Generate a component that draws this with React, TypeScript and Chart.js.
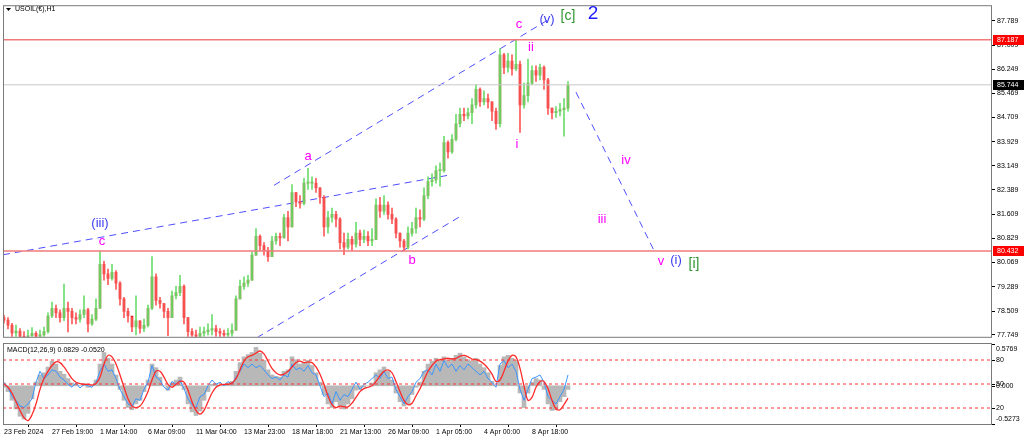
import React, { useEffect, useRef } from 'react';
import { Chart, registerables } from 'chart.js';

Chart.register(...registerables);

const FONT = '"Liberation Sans", Arial, sans-serif';

const chartTitle = 'USOIL(€),H1';
const macdTitle = 'MACD(12,26,9) 0.0829 -0.0520';

const xTickLabels = ['23 Feb 2024', '27 Feb 19:00', '1 Mar 14:00', '6 Mar 09:00', '11 Mar 04:00', '13 Mar 23:00', '18 Mar 18:00', '21 Mar 13:00', '26 Mar 09:00', '1 Apr 05:00', '4 Apr 00:00', '8 Apr 18:00'];
const barsPerTick = 12;

const priceTicks = [87.789, 87.009, 86.249, 85.469, 84.709, 83.929, 83.149, 82.389, 81.609, 80.829, 80.069, 79.289, 78.509, 77.749];

const firstOpen = 78.3;
const closes = [
  78.22, 78.06, 77.81, 77.87, 77.70, 77.65, 77.72, 77.80, 77.70, 77.75,
  77.85, 78.35, 78.60, 78.45, 78.30, 78.60, 78.50, 78.30, 78.25, 78.40,
  78.55, 78.10, 78.25, 78.60, 80.00, 79.70, 79.55, 79.75, 79.40, 78.90,
  78.50, 78.35, 78.00, 78.20, 77.95, 78.05, 78.60, 79.60, 78.85, 78.75,
  78.50, 78.30, 79.00, 79.10, 79.30, 78.30, 77.85, 77.75, 77.70, 77.80,
  77.85, 77.90, 77.95, 77.85, 77.80, 77.75, 77.80, 77.90, 78.90, 79.30,
  79.40, 79.50, 80.30, 80.90, 80.60, 80.45, 80.25, 80.75, 80.90, 80.85,
  81.50, 81.20, 82.30, 82.00, 81.95, 82.60, 82.60, 82.60, 82.45, 82.15,
  81.20, 81.50, 81.60, 81.45, 80.70, 80.55, 80.80, 80.65, 81.00, 80.80,
  80.90, 80.75, 80.80, 81.90, 81.70, 81.90, 81.60, 81.45, 81.00, 80.75,
  80.55, 81.00, 81.15, 81.50, 81.45, 82.20, 82.65, 82.70, 83.00, 83.00,
  83.90, 83.60, 84.00, 84.50, 84.80, 84.75, 84.85, 85.10, 85.60, 85.20,
  85.30, 85.20, 84.90, 84.50, 86.70, 86.30, 86.50, 86.25, 86.40, 85.10,
  85.40, 85.80, 86.20, 86.05, 86.30, 85.90, 85.00, 84.85, 84.90, 84.95,
  85.00, 85.744,
];
const highs = [
  78.37, 78.30, 78.12, 78.06, 77.95, 77.85, 77.90, 77.98, 77.85, 77.90,
  78.00, 78.45, 78.80, 78.70, 78.55, 79.37, 78.80, 78.60, 78.45, 78.55,
  79.00, 78.60, 78.40, 78.90, 80.43, 80.10, 79.85, 80.00, 79.80, 79.45,
  78.95, 78.60, 78.30, 79.00, 78.20, 78.25, 78.70, 80.25, 79.70, 78.95,
  78.75, 78.60, 79.15, 79.30, 79.65, 79.35, 78.30, 77.95, 77.90, 78.00,
  78.00, 78.10, 78.40, 78.05, 77.95, 77.90, 77.95, 78.10, 79.00, 79.50,
  79.60, 79.65, 80.40, 81.15, 80.95, 80.70, 80.55, 80.90, 81.00, 81.00,
  81.60, 81.70, 82.55, 82.30, 82.20, 82.75, 83.07, 82.80, 82.75, 82.45,
  82.20, 81.70, 81.80, 81.70, 81.50, 81.00, 81.00, 80.90, 81.35, 81.10,
  81.10, 81.05, 81.15, 82.10, 82.15, 82.20, 82.00, 81.80, 81.50, 81.00,
  80.80, 81.20, 81.35, 81.80, 81.75, 82.45, 82.80, 82.90, 83.15, 83.25,
  84.10, 83.95, 84.15, 84.80, 85.00, 85.00, 85.00, 85.30, 85.75, 85.65,
  85.55, 85.45, 85.20, 85.00, 86.90, 86.75, 86.75, 86.70, 87.19, 86.50,
  85.80, 86.57, 86.35, 86.35, 86.41, 86.35, 85.95, 85.00, 85.05, 85.15,
  85.30, 85.85,
];
const lows = [
  78.12, 77.94, 77.59, 77.59, 77.50, 77.45, 77.50, 77.60, 77.50, 77.55,
  77.60, 77.80, 78.30, 78.30, 78.15, 78.20, 77.84, 78.10, 78.10, 78.15,
  78.30, 77.84, 78.05, 78.20, 78.60, 79.50, 79.35, 79.50, 79.20, 78.70,
  78.30, 78.15, 77.85, 77.75, 77.80, 77.85, 78.00, 78.55, 78.70, 78.60,
  78.30, 77.72, 78.30, 78.90, 79.00, 78.10, 77.65, 77.60, 77.55, 77.60,
  77.70, 77.75, 77.75, 77.70, 77.60, 77.55, 77.60, 77.70, 77.90, 78.90,
  79.20, 79.30, 79.50, 80.30, 80.45, 80.30, 80.10, 80.25, 80.65, 80.60,
  80.85, 80.75, 81.20, 81.85, 81.80, 81.90, 82.40, 82.40, 82.30, 81.95,
  80.90, 81.00, 81.35, 81.20, 80.50, 80.31, 80.50, 80.45, 80.55, 80.60,
  80.70, 80.60, 80.60, 80.80, 81.50, 81.60, 81.45, 81.30, 80.85, 80.55,
  80.43, 80.50, 80.90, 81.00, 81.20, 81.40, 82.10, 82.50, 82.60, 82.50,
  82.95, 83.40, 83.55, 83.95, 84.40, 84.60, 84.65, 84.50, 85.00, 85.05,
  85.10, 85.00, 84.60, 84.32, 84.40, 86.10, 86.15, 86.05, 86.20, 84.22,
  85.00, 85.20, 85.75, 85.85, 85.90, 85.60, 84.80, 84.65, 84.70, 84.75,
  84.10, 84.90,
];

const macdHist = [
  -0.02, -0.08, -0.20, -0.32, -0.42, -0.46, -0.38, -0.18, 0.05, 0.15,
  0.18, 0.26, 0.34, 0.30, 0.20, 0.16, 0.10, 0.04, 0.02, 0.00,
  0.03, -0.02, 0.01, 0.08, 0.30, 0.46, 0.38, 0.30, 0.15, -0.05,
  -0.20, -0.30, -0.33, -0.25, -0.20, -0.08, 0.08, 0.30, 0.25, 0.12,
  0.00, -0.06, 0.04, 0.08, 0.12, -0.05, -0.25, -0.36, -0.41, -0.35,
  -0.20, -0.08, 0.02, 0.03, 0.00, 0.02, 0.04, 0.06, 0.20, 0.32,
  0.40, 0.43, 0.46, 0.53, 0.45, 0.35, 0.22, 0.15, 0.13, 0.12,
  0.20, 0.22, 0.40, 0.36, 0.30, 0.32, 0.35, 0.28, 0.18, 0.05,
  -0.12, -0.25, -0.30, -0.22, -0.28, -0.32, -0.25, -0.18, -0.06, -0.05,
  -0.02, 0.00, 0.04, 0.18, 0.22, 0.26, 0.20, 0.08, -0.10, -0.22,
  -0.28, -0.25, -0.12, -0.02, 0.05, 0.20, 0.30, 0.34, 0.38, 0.36,
  0.40, 0.35, 0.38, 0.42, 0.45, 0.40, 0.36, 0.34, 0.38, 0.30,
  0.25, 0.18, 0.06, 0.00, 0.28, 0.40, 0.42, 0.38, 0.35, -0.10,
  -0.30, -0.10, 0.05, 0.10, 0.08, -0.05, -0.25, -0.34, -0.33, -0.22,
  -0.15, -0.05,
];
const macdSignal = [
  0.02, -0.02, -0.10, -0.22, -0.34, -0.44, -0.48, -0.40, -0.25, -0.05,
  0.10, 0.20, 0.28, 0.33, 0.32, 0.26, 0.18, 0.10, 0.05, 0.03,
  0.02, 0.02, 0.01, 0.03, 0.12, 0.30, 0.42, 0.40, 0.30, 0.15,
  -0.02, -0.18, -0.28, -0.30, -0.28, -0.20, -0.08, 0.08, 0.20, 0.20,
  0.12, 0.02, -0.02, 0.02, 0.06, 0.05, -0.06, -0.22, -0.34, -0.39,
  -0.34, -0.22, -0.10, -0.02, 0.01, 0.02, 0.02, 0.04, 0.10, 0.22,
  0.34, 0.40, 0.42, 0.45, 0.48, 0.44, 0.34, 0.24, 0.18, 0.15,
  0.16, 0.20, 0.26, 0.32, 0.34, 0.32, 0.33, 0.32, 0.26, 0.16,
  0.02, -0.14, -0.26, -0.30, -0.28, -0.29, -0.29, -0.24, -0.16, -0.08,
  -0.04, -0.02, 0.00, 0.06, 0.14, 0.20, 0.22, 0.18, 0.06, -0.08,
  -0.20, -0.26, -0.24, -0.14, -0.04, 0.08, 0.20, 0.28, 0.34, 0.36,
  0.37, 0.38, 0.37, 0.38, 0.41, 0.42, 0.40, 0.37, 0.36, 0.34,
  0.30, 0.24, 0.16, 0.06, 0.08, 0.20, 0.34, 0.42, 0.40, 0.24,
  0.00, -0.20, -0.16, -0.02, 0.06, 0.06, -0.04, -0.20, -0.32, -0.33,
  -0.26, -0.17,
];
const macdMain = [
  0.05, -0.02, -0.15, -0.20, -0.28, -0.30, -0.25, -0.18, 0.05, 0.20,
  0.10, 0.15, 0.22, 0.20, 0.12, 0.08, 0.02, -0.02, 0.04, -0.03,
  0.02, 0.00, -0.02, 0.05, 0.20, 0.30, 0.20, 0.22, 0.10, -0.05,
  -0.15, -0.25, -0.28, -0.18, -0.20, -0.05, 0.05, 0.28, 0.12, 0.08,
  -0.02, -0.06, 0.06, 0.02, 0.08, -0.04, -0.18, -0.26, -0.30, -0.15,
  -0.12, 0.00, 0.08, 0.02, 0.05, 0.00, 0.06, 0.02, 0.12, 0.20,
  0.30, 0.25, 0.30, 0.25, 0.28, 0.22, 0.15, 0.10, 0.12, 0.08,
  0.15, 0.12, 0.30, 0.22, 0.25, 0.20, 0.28, 0.18, 0.15, 0.00,
  -0.15, -0.10, -0.25, -0.08, -0.20, -0.12, -0.15, -0.05, 0.05, -0.05,
  0.02, 0.05, 0.10, 0.15, 0.10, 0.20, 0.10, 0.12, -0.05, -0.15,
  -0.25, -0.15, -0.08, 0.05, 0.10, 0.20, 0.22, 0.15, 0.30, 0.20,
  0.35, 0.25, 0.30, 0.20, 0.28, 0.22, 0.30, 0.25, 0.20, 0.15,
  0.20, 0.10, 0.05, -0.02, 0.30, 0.35, 0.25, 0.30, 0.20, -0.05,
  -0.20, -0.05, 0.10, 0.12, 0.15, 0.05, -0.15, -0.20, -0.25, -0.15,
  -0.05, 0.15,
];

const macdMax = 0.5769;
const macdMin = -0.5273;
const stochLevels = [80, 50, 20];

const levelPrices = [87.187, 80.432];
const bidPrice = 85.744;

// Elliott-wave trend lines: [barIndex, price] pairs
const trendLines = [
  [[-0.25, 80.31], [111, 82.85]],
  [[67.5, 82.53], [136, 87.82]],
  [[63.25, 77.66], [114, 81.53]],
  [[143, 85.51], [162.75, 80.38]],
];

const MAG = '#ff00ff';
const BLU = '#3b3bef';
const GRN = '#2f962f';
const waveLabels = [
  { text: '(iii)', x: 24, y: 81.31, color: BLU, size: 13 },
  { text: 'c', x: 24.5, y: 80.75, color: MAG, size: 13 },
  { text: 'a', x: 76, y: 83.47, color: MAG, size: 13 },
  { text: 'b', x: 102, y: 80.13, color: MAG, size: 13 },
  { text: 'c', x: 128.75, y: 87.66, color: MAG, size: 13 },
  { text: '(v)', x: 135.75, y: 87.85, color: BLU, size: 13 },
  { text: '[c]', x: 141, y: 87.95, color: GRN, size: 14 },
  { text: '2', x: 147.25, y: 88.01, color: '#1c1cff', size: 19 },
  { text: 'ii', x: 131.75, y: 86.94, color: MAG, size: 13 },
  { text: 'i', x: 128.25, y: 83.85, color: MAG, size: 13 },
  { text: 'iv', x: 155.5, y: 83.32, color: MAG, size: 13 },
  { text: 'iii', x: 149.5, y: 81.44, color: MAG, size: 13 },
  { text: 'v', x: 164.25, y: 80.09, color: MAG, size: 13 },
  { text: '(i)', x: 168, y: 80.13, color: BLU, size: 13 },
  { text: '[i]', x: 172.5, y: 80.0, color: GRN, size: 14 },
];

const X_MIN = -0.25;
const X_MAX = 247;
const Y_MIN = 77.686;
const Y_MAX = 88.258;

const UP_WICK = '#6ddc6d';
const DOWN_WICK = '#ff5a5a';
const UP_BODY = '#7c7c26';
const DOWN_BODY = '#e02222';

export default function App() {
  const topRef = useRef<HTMLCanvasElement>(null);
  const botRef = useRef<HTMLCanvasElement>(null);

  useEffect(() => {
    const opens = closes.map((c, i) => (i === 0 ? firstOpen : closes[i - 1]));
    const isUp = closes.map((c, i) => c >= opens[i]);

    const frameAndTitle = {
      id: 'frameTop',
      afterDraw(chart: any) {
        const { ctx, chartArea: a, scales } = chart;
        ctx.save();
        ctx.strokeStyle = '#7a7a7a';
        ctx.lineWidth = 1;
        ctx.strokeRect(a.left + 0.5, a.top - 0.5, a.right - a.left - 1, a.bottom - a.top + 1);
        // title
        ctx.fillStyle = '#000';
        ctx.beginPath();
        ctx.moveTo(6, 8);
        ctx.lineTo(11, 8);
        ctx.lineTo(8.5, 11);
        ctx.closePath();
        ctx.fill();
        ctx.font = `7px ${FONT}`;
        ctx.textBaseline = 'middle';
        ctx.textAlign = 'left';
        ctx.fillText(chartTitle, 15, 9.5);
        // wave labels
        const xs = scales.x;
        const ys = scales.y;
        ctx.textAlign = 'center';
        waveLabels.forEach((l) => {
          ctx.font = `${l.size}px ${FONT}`;
          ctx.fillStyle = l.color;
          ctx.fillText(l.text, xs.getPixelForValue(l.x), ys.getPixelForValue(l.y));
        });
        // highlighted price labels
        const tags = [
          { v: levelPrices[0], bg: '#ff0000' },
          { v: bidPrice, bg: '#000000' },
          { v: levelPrices[1], bg: '#ff0000' },
        ];
        ctx.font = `7px ${FONT}`;
        ctx.textAlign = 'left';
        tags.forEach((t) => {
          const y = Math.round(ys.getPixelForValue(t.v));
          ctx.fillStyle = t.bg;
          ctx.fillRect(a.right + 1, y - 5, 31, 10);
          ctx.fillStyle = '#ffffff';
          ctx.fillText(t.v.toFixed(3), a.right + 5, y + 0.5);
        });
        ctx.restore();
      },
    };

    const lineDs = (pts: number[][], color: string, dash: number[], width: number) => ({
      type: 'line' as const,
      data: pts.map((p) => ({ x: p[0], y: p[1] })),
      borderColor: color,
      borderWidth: width,
      borderDash: dash,
      pointRadius: 0,
      fill: false,
      tension: 0,
    });

    const top = new Chart(topRef.current!, {
      type: 'bar',
      data: {
        datasets: [
          lineDs([[X_MIN, bidPrice], [X_MAX, bidPrice]], '#c8c8c8', [], 1),
          lineDs([[X_MIN, levelPrices[0]], [X_MAX, levelPrices[0]]], '#f07a7a', [], 1.5),
          lineDs([[X_MIN, levelPrices[1]], [X_MAX, levelPrices[1]]], '#f07a7a', [], 1.5),
          {
            type: 'bar',
            data: closes.map((c, i) => ({ x: i, y: [lows[i], highs[i]] })),
            backgroundColor: isUp.map((u) => (u ? UP_WICK : DOWN_WICK)),
            barThickness: 1,
            grouped: false,
            borderWidth: 0,
          } as any,
          {
            type: 'bar',
            data: closes.map((c, i) => ({ x: i, y: [opens[i], c] })),
            backgroundColor: isUp.map((u) => (u ? UP_BODY : DOWN_BODY)),
            barThickness: 2,
            minBarLength: 1,
            grouped: false,
            borderWidth: 0,
          } as any,
          ...trendLines.map((t) => lineDs(t, '#4f4fff', [7, 5], 1)),
        ] as any,
      },
      options: {
        responsive: false,
        animation: false,
        devicePixelRatio: 1,
        layout: { padding: { left: 3, top: 4, right: 0, bottom: 1 } },
        plugins: { legend: { display: false }, tooltip: { enabled: false } },
        scales: {
          x: { type: 'linear', min: X_MIN, max: X_MAX, display: false, offset: false },
          y: {
            position: 'right',
            min: Y_MIN,
            max: Y_MAX,
            afterBuildTicks: (s: any) => {
              s.ticks = priceTicks.map((v) => ({ value: v }));
            },
            afterFit: (s: any) => {
              s.width = 32;
            },
            grid: { drawOnChartArea: false, tickLength: 3, color: '#000' },
            border: { display: false },
            ticks: {
              padding: 2,
              color: '#000',
              font: { size: 7, family: FONT },
              callback: (v: any) => Number(v).toFixed(3),
            },
          },
        },
      } as any,
      plugins: [frameAndTitle],
    });

    const macdLabels = [
      { axis: 'y', v: macdMax, text: macdMax.toFixed(4), dy: 5 },
      { axis: 'ys', v: 80, text: '80', dy: 0 },
      { axis: 'ys', v: 50, text: '50', dy: 0 },
      { axis: 'y', v: 0, text: '0.000', dy: 0 },
      { axis: 'ys', v: 20, text: '20', dy: 0 },
      { axis: 'y', v: macdMin, text: macdMin.toFixed(4), dy: -5 },
    ];

    const frameBottom = {
      id: 'frameBottom',
      afterDraw(chart: any) {
        const { ctx, chartArea: a, scales } = chart;
        ctx.save();
        ctx.strokeStyle = '#7a7a7a';
        ctx.lineWidth = 1;
        ctx.strokeRect(a.left + 0.5, a.top - 0.5, a.right - a.left - 1, a.bottom - a.top + 1);
        ctx.fillStyle = '#000';
        ctx.font = `7px ${FONT}`;
        ctx.textBaseline = 'middle';
        ctx.textAlign = 'left';
        ctx.fillText(macdTitle, a.left + 4, a.top + 6);
        macdLabels.forEach((l) => {
          const y = scales[l.axis].getPixelForValue(l.v);
          ctx.fillRect(a.right, Math.round(y), 3, 1);
          ctx.fillText(l.text, a.right + 4, y + l.dy);
        });
        ctx.restore();
      },
    };

    const bot = new Chart(botRef.current!, {
      type: 'bar',
      data: {
        datasets: [
          {
            type: 'bar',
            data: macdHist.map((v, i) => ({ x: i, y: v })),
            backgroundColor: '#b8b8b8',
            barThickness: 4,
            grouped: false,
            borderWidth: 0,
            yAxisID: 'y',
            order: 3,
          },
          {
            type: 'line',
            data: macdMain.map((v, i) => ({ x: i, y: v })),
            borderColor: '#3b96ff',
            borderWidth: 1,
            pointRadius: 0,
            tension: 0,
            yAxisID: 'y',
            order: 2,
          },
          {
            type: 'line',
            data: macdSignal.map((v, i) => ({ x: i, y: v })),
            borderColor: '#ff2a2a',
            borderWidth: 1.3,
            pointRadius: 0,
            tension: 0.35,
            yAxisID: 'y',
            order: 1,
          },
          ...stochLevels.map((lv) => ({
            type: 'line',
            data: [{ x: X_MIN, y: lv }, { x: X_MAX, y: lv }],
            borderColor: '#ff3030',
            borderWidth: 1,
            borderDash: [3, 3],
            pointRadius: 0,
            yAxisID: 'ys',
            order: 0,
          })),
        ] as any,
      },
      options: {
        responsive: false,
        animation: false,
        devicePixelRatio: 1,
        layout: { padding: { left: 3, top: 6, right: 0, bottom: 0 } },
        plugins: { legend: { display: false }, tooltip: { enabled: false } },
        scales: {
          x: {
            type: 'linear',
            min: X_MIN,
            max: X_MAX,
            offset: false,
            afterBuildTicks: (s: any) => {
              s.ticks = xTickLabels.map((_, k) => ({ value: k * barsPerTick }));
            },
            afterFit: (s: any) => {
              s.height = 17;
            },
            grid: { drawOnChartArea: false, tickLength: 3, color: '#000' },
            border: { display: false },
            ticks: {
              align: 'start',
              maxRotation: 0,
              autoSkip: false,
              padding: 1,
              color: '#000',
              font: { size: 7, family: FONT },
              callback: (v: any) => xTickLabels[Math.round(Number(v) / barsPerTick)] ?? '',
            },
          },
          y: {
            position: 'right',
            min: macdMin,
            max: macdMax,
            afterFit: (s: any) => {
              s.width = 32;
            },
            grid: { display: false },
            border: { display: false },
            ticks: { display: false },
          },
          ys: { position: 'right', min: 0, max: 100, display: false },
        },
      } as any,
      plugins: [frameBottom],
    });

    return () => {
      top.destroy();
      bot.destroy();
    };
  }, []);

  return (
    <div style={{ position: 'fixed', left: 0, top: 0, width: 1024, height: 441, background: '#ffffff', overflow: 'hidden' }}>
      <canvas ref={topRef} width={1024} height={343} style={{ position: 'absolute', left: 0, top: 0, width: 1024, height: 343 }} />
      <canvas ref={botRef} width={1024} height={103} style={{ position: 'absolute', left: 0, top: 338, width: 1024, height: 103 }} />
    </div>
  );
}
